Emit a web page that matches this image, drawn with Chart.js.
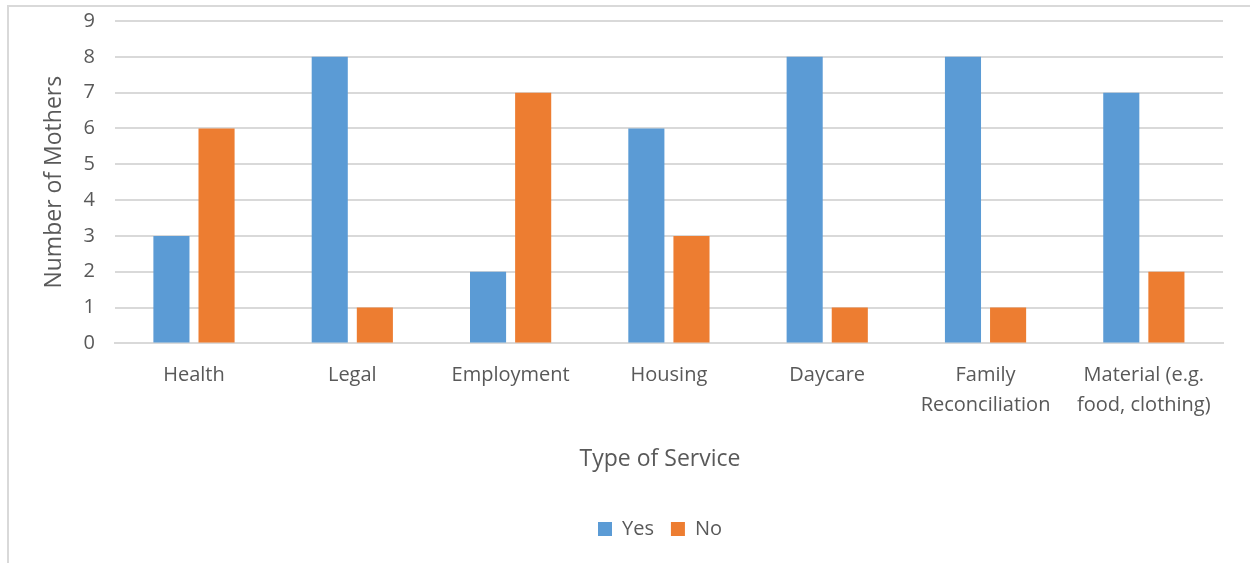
<!DOCTYPE html>
<html lang="en">
<head>
    <meta charset="UTF-8">
    <title>Type of Service</title>
    <script src="https://cdn.jsdelivr.net/npm/chart.js"></script>
    <style>
        body {
            margin: 0;
            padding: 0;
            background: #ffffff;
            overflow: hidden;
        }
        #frame {
            position: absolute;
            left: 7px;
            top: 5px;
            width: 1400px;
            height: 700px;
            border: 2px solid #d9d9d9;
        }
        /* the chart box runs off the right edge of the picture */
        #wrap {
            position: absolute;
            left: 0;
            top: -11px;
            width: 1314px;
            height: 574px;
        }
    </style>
</head>
<body>
    <div id="frame"></div>
    <div id="wrap"><canvas id="serviceChart"></canvas></div>
    <script>
        const categories = ['Health', 'Legal', 'Employment', 'Housing', 'Daycare',
            ['Family', 'Reconciliation'], ['Material (e.g.', 'food, clothing)']];
        const yesValues = [3, 8, 2, 6, 8, 8, 7];
        const noValues = [6, 1, 7, 3, 1, 1, 2];
        const yTicks = [0, 1, 2, 3, 4, 5, 6, 7, 8, 9];

        const textColor = '#595959';
        const fontFamily = '"Open Sans", "Noto Sans", sans-serif';

        // axis title and legend sit centred on the whole chart box, not on the plot
        const boxShift = {
            id: 'boxShift',
            afterLayout(chart) {
                [chart.legend, chart.titleBlock].forEach(b => {
                    b.left += 26;
                    b.right += 26;
                });
            }
        };

        const ctx = document.getElementById('serviceChart').getContext('2d');
        new Chart(ctx, {
            type: 'bar',
            data: {
                labels: categories,
                datasets: [
                    {
                        label: 'Yes',
                        data: yesValues,
                        backgroundColor: '#5b9bd5',
                        categoryPercentage: 0.57,
                        barPercentage: 0.8
                    },
                    {
                        label: 'No',
                        data: noValues,
                        backgroundColor: '#ed7d31',
                        categoryPercentage: 0.57,
                        barPercentage: 0.8
                    }
                ]
            },
            plugins: [boxShift],
            options: {
                responsive: true,
                maintainAspectRatio: false,
                animation: false,
                layout: {
                    padding: { top: 1, right: 91, bottom: 14, left: 45 }
                },
                plugins: {
                    tooltip: { enabled: false },
                    title: {
                        display: true,
                        text: 'Type of Service',
                        position: 'bottom',
                        weight: 500,
                        color: textColor,
                        font: { family: fontFamily, size: 23, weight: 'normal' },
                        padding: { top: 16, bottom: 29 }
                    },
                    legend: {
                        position: 'bottom',
                        labels: {
                            color: textColor,
                            font: { family: fontFamily, size: 20 },
                            boxWidth: 14,
                            boxHeight: 14,
                            padding: 17
                        }
                    }
                },
                scales: {
                    x: {
                        grid: { display: false },
                        border: { color: '#d9d9d9', width: 2 },
                        ticks: {
                            color: textColor,
                            font: { family: fontFamily, size: 20, lineHeight: 1.5 },
                            maxRotation: 0,
                            autoSkip: false,
                            padding: 9
                        }
                    },
                    y: {
                        min: 0,
                        max: 9,
                        afterBuildTicks: axis => {
                            axis.ticks = yTicks.map(v => ({ value: v }));
                        },
                        grid: { color: '#d9d9d9', lineWidth: 2, drawTicks: false },
                        border: { display: false },
                        ticks: {
                            color: textColor,
                            font: { family: fontFamily, size: 20 },
                            padding: 20
                        },
                        title: {
                            display: true,
                            text: 'Number of Mothers',
                            color: textColor,
                            font: { family: fontFamily, size: 23, lineHeight: 0.8 },
                            padding: { top: 0, bottom: 0 }
                        }
                    }
                }
            }
        });
    </script>
</body>
</html>
